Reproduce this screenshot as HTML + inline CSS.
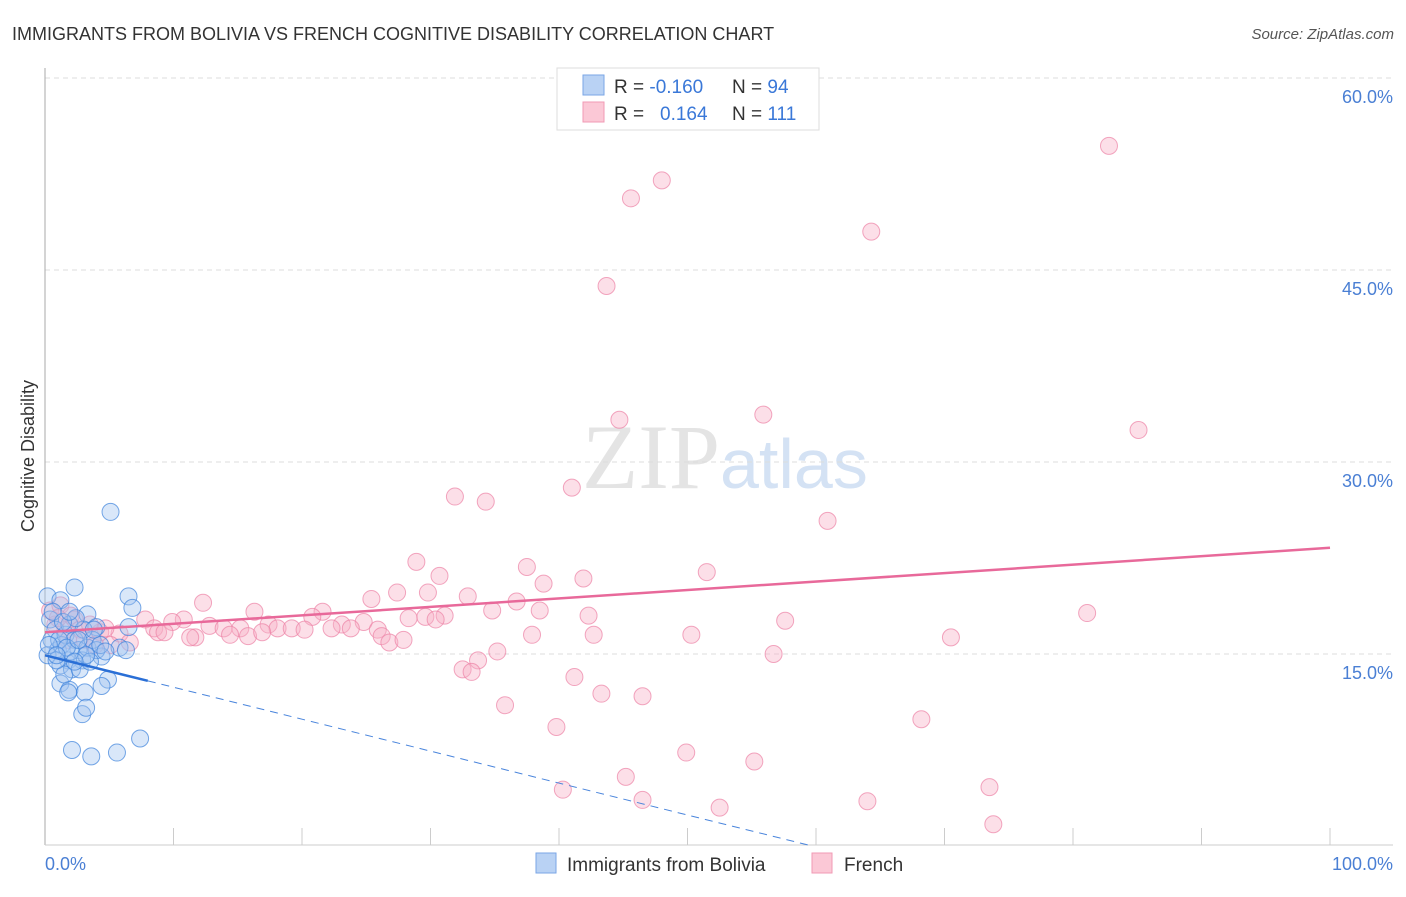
<!DOCTYPE html>
<html><head><meta charset="utf-8"><style>
body{margin:0;background:#fff;font-family:"Liberation Sans",sans-serif;}
</style></head><body>
<svg width="1406" height="892" viewBox="0 0 1406 892" xmlns="http://www.w3.org/2000/svg">
<text x="12" y="40" font-size="18" fill="#333">IMMIGRANTS FROM BOLIVIA VS FRENCH COGNITIVE DISABILITY CORRELATION CHART</text>
<text x="1394" y="39" font-size="15" fill="#555" font-style="italic" text-anchor="end">Source: ZipAtlas.com</text>
<text x="720" y="488" font-size="92" fill="#e4e4e4" text-anchor="end" font-family="Liberation Serif">ZIP</text>
<text x="720" y="488" font-size="70" fill="#d4e2f4">atlas</text>
<g id="grid"></g>
<line x1="45" y1="68" x2="45" y2="845" stroke="#aaa"/>
<line x1="45" y1="845" x2="1393" y2="845" stroke="#ccc"/>
<text transform="translate(34,456) rotate(-90)" font-size="18" fill="#333" text-anchor="middle">Cognitive Disability</text>
<text x="45" y="870" font-size="18" fill="#4a7fd4">0.0%</text>
<text x="1393" y="870" font-size="18" fill="#4a7fd4" text-anchor="end">100.0%</text>
<g id="pts"></g>
<g id="trend"></g>
<g>
<rect x="557" y="68" width="262" height="62" fill="#fff" stroke="#ddd"/>
<rect x="583" y="75" width="21" height="20" fill="#b9d2f4" stroke="#7aa6e6"/>
<rect x="583" y="102" width="21" height="20" fill="#fbc8d6" stroke="#f09ab4"/>
<text x="614" y="93" font-size="19" fill="#333">R = <tspan fill="#3a78d8">-0.160</tspan><tspan x="732">N = </tspan><tspan fill="#3a78d8">94</tspan></text>
<text x="614" y="120" font-size="19" fill="#333">R = <tspan x="660" fill="#3a78d8">0.164</tspan><tspan x="732">N = </tspan><tspan fill="#3a78d8">111</tspan></text>
</g>
<g>
<rect x="536" y="853" width="20" height="20" fill="#b9d2f4" stroke="#7aa6e6"/>
<text x="567" y="871" font-size="19" fill="#333">Immigrants from Bolivia</text>
<rect x="812" y="853" width="20" height="20" fill="#fbc8d6" stroke="#f09ab4"/>
<text x="844" y="871" font-size="19" fill="#333">French</text>
</g>
</svg>
<script>
const yTicks=[15,30,45,60];
const yTickLabels=["15.0%","30.0%","45.0%","60.0%"];
const xTicks=[10,20,30,40,50,60,70,80,90,100];
const blueX=[5.1,2.3,6.5,6.8,0.2,1.2,3.3,6.5,4.0,5.8,6.3,4.4,4.9,4.4,1.2,1.9,3.1,1.8,2.9,3.2,7.4,2.1,5.6,3.6,
0.4,0.8,0.5,1.0,0.2,1.3,1.6,1.9,2.3,2.6,2.9,1.8,1.2,2.1,1.5,0.9,3.3,3.7,3.0,2.4,4.0,2.7,3.5,0.6,1.4,2.0,1.1,1.7,0.3,3.2,2.3,4.3,0.9,1.9,2.6,4.7,3.8];
const blueY=[26.1,20.2,19.5,18.6,19.5,19.2,18.1,17.1,17.1,15.5,15.3,14.8,13.0,12.5,12.7,12.2,12.0,12.0,10.3,10.8,8.4,7.5,7.3,7.0,
17.7,16.9,16.1,15.3,14.9,15.7,16.5,17.3,16.1,15.3,14.5,14.5,14.1,13.8,13.4,14.5,15.5,16.1,16.9,17.8,15.3,13.8,14.4,18.3,17.5,15.2,16.1,15.5,15.7,14.9,14.4,15.7,14.9,18.3,16.1,15.2,16.9];
const pinkX=[82.8,48.0,45.6,64.3,43.7,55.9,44.7,85.1,41.0,31.9,34.3,60.9,28.9,37.5,51.5,30.7,41.9,38.8,27.4,29.8,32.9,25.4,36.7,12.3,81.1,16.3,21.6,34.8,38.5,42.3,57.6,31.1,28.3,29.6,30.4,20.8,23.1,24.8,23.8,10.8,9.9,7.8,12.8,13.9,15.2,17.4,18.1,19.2,20.2,22.3,25.9,8.5,8.8,9.3,5.8,14.4,15.8,16.9,11.7,11.3,26.2,37.9,42.7,50.3,70.5,26.8,27.9,6.6,4.3,35.2,56.7,33.7,32.5,33.2,41.2,43.3,46.5,35.8,68.2,39.8,49.9,55.2,45.2,73.5,40.3,46.5,64.0,52.5,73.8,
0.4,1.2,2.0,0.8,1.6,2.3,2.7,3.1,3.5,3.9,5.1,4.7,1.8,1.0];
const pinkY=[54.7,52.0,50.6,48.0,43.75,33.7,33.3,32.5,28.0,27.3,26.9,25.4,22.2,21.8,21.4,21.1,20.9,20.5,19.8,19.8,19.5,19.3,19.1,19.0,18.2,18.3,18.3,18.4,18.4,18.0,17.6,18.0,17.8,17.9,17.7,17.9,17.3,17.5,17.0,17.7,17.5,17.7,17.2,17.0,17.0,17.3,17.0,17.0,16.9,17.0,16.9,17.0,16.7,16.7,16.6,16.5,16.4,16.7,16.3,16.3,16.4,16.5,16.5,16.5,16.3,15.9,16.1,15.9,16.7,15.2,15.0,14.5,13.8,13.6,13.2,11.9,11.7,11.0,9.9,9.3,7.3,6.6,5.4,4.6,4.4,3.6,3.5,3.0,1.7,
18.4,18.8,18.0,17.3,16.9,17.7,16.9,16.1,17.3,15.7,15.7,17.0,16.1,17.8];
const blueTrend=[14.9,-0.2496];
const pinkTrend=[16.7,0.066];
const sx=v=>45+v*12.85, sy=v=>846-v*12.8;
const NS="http://www.w3.org/2000/svg";
function mk(tag,attrs,parent){const e=document.createElementNS(NS,tag);for(const k in attrs)e.setAttribute(k,attrs[k]);parent.appendChild(e);return e;}
const grid=document.getElementById('grid');
yTicks.forEach((t,i)=>{
 const l=mk('line',{x1:45,x2:1393,y1:sy(t),y2:sy(t),stroke:'#ddd','stroke-dasharray':'5,4'},grid);
 
 
 const tx=mk('text',{x:1393,y:sy(t)+25,'font-size':18,fill:'#4a7fd4','text-anchor':'end'},grid);
 tx.textContent=yTickLabels[i];
 
 
});
xTicks.forEach(t=>{
 const l=mk('line',{x1:sx(t),x2:sx(t),y1:828,y2:845,stroke:'#ccc'},grid);
 
 
});
const pts=document.getElementById('pts');
pinkX.forEach((x,i)=>{
 const c=mk('circle',{cx:sx(x),cy:sy(pinkY[i]),r:8.5,fill:'rgba(248,175,198,0.4)',stroke:'rgba(236,130,165,0.7)','stroke-width':1},pts);
 
 
});
blueX.forEach((x,i)=>{
 const c=mk('circle',{cx:sx(x),cy:sy(blueY[i]),r:8.5,fill:'rgba(160,196,240,0.4)',stroke:'rgba(60,130,220,0.7)','stroke-width':1},pts);
 
 
});
const tr=document.getElementById('trend');
const bf=x=>blueTrend[0]+blueTrend[1]*x, pf=x=>pinkTrend[0]+pinkTrend[1]*x;
let e=mk('line',{x1:sx(0),y1:sy(bf(0)),x2:sx(8),y2:sy(bf(8)),stroke:'#2a6fd6','stroke-width':2.5},tr);


e=mk('line',{x1:sx(8),y1:sy(bf(8)),x2:sx(59.7),y2:sy(bf(59.7)),stroke:'#4a85dc','stroke-width':1,'stroke-dasharray':'8,6'},tr);


e=mk('line',{x1:sx(0),y1:sy(pf(0)),x2:sx(100),y2:sy(pf(100)),stroke:'#e8699a','stroke-width':2.5},tr);


</script>
</body></html>
